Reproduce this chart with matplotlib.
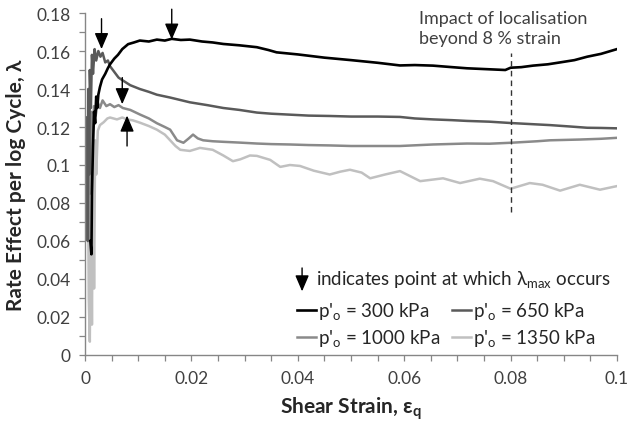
import matplotlib
matplotlib.use('Agg')
import matplotlib.pyplot as plt
from matplotlib.ticker import MultipleLocator, FuncFormatter

plt.rcParams['font.family'] = ['Lato', 'DejaVu Sans']
plt.rcParams['mathtext.fontset'] = 'custom'
plt.rcParams['mathtext.rm'] = 'Lato'
plt.rcParams['mathtext.bf'] = 'Lato:bold'

# shear strain / rate effect readings for each confining pressure
strain_300 = [0.0010, 0.0012, 0.0013, 0.0015, 0.0017, 0.0019, 0.0021, 0.0023, 0.0025, 0.0028,
              0.0032, 0.0038, 0.0043, 0.0047, 0.0055, 0.0062, 0.0070, 0.0081, 0.0092, 0.0103,
              0.0120, 0.0135, 0.0150, 0.0163, 0.0180, 0.0197, 0.0220, 0.0240, 0.0260, 0.0290,
              0.0323, 0.0345, 0.0360, 0.0400, 0.0450, 0.0500, 0.0550, 0.0592, 0.0620, 0.0654,
              0.0690, 0.0718, 0.0750, 0.0774, 0.0790, 0.0800, 0.0820, 0.0842, 0.0870, 0.0893,
              0.0920, 0.0944, 0.0970, 0.1000]
lam_300 = [0.060, 0.053, 0.085, 0.110, 0.128, 0.122, 0.136, 0.130, 0.137, 0.141,
           0.145, 0.148, 0.151, 0.153, 0.156, 0.158, 0.161, 0.1636, 0.1645, 0.1655,
           0.1650, 0.1660, 0.1655, 0.1664, 0.1658, 0.1660, 0.1650, 0.1645, 0.1637, 0.1630,
           0.1620, 0.1605, 0.1593, 0.1582, 0.1565, 0.1552, 0.1538, 0.1524, 0.1526, 0.1523,
           0.1515, 0.1509, 0.1505, 0.1502, 0.1500, 0.1512, 0.1515, 0.1523, 0.1530, 0.1540,
           0.1552, 0.1570, 0.1585, 0.1610]

strain_650 = [0.0003, 0.0005, 0.0006, 0.0008, 0.0009, 0.0011, 0.0013, 0.0015, 0.0018, 0.0021,
              0.0025, 0.0029, 0.0033, 0.0038, 0.0043, 0.0047, 0.0055, 0.0063, 0.0071, 0.0085,
              0.0103, 0.0120, 0.0135, 0.0160, 0.0197, 0.0230, 0.0260, 0.0290, 0.0323, 0.0350,
              0.0385, 0.0420, 0.0460, 0.0500, 0.0550, 0.0592, 0.0620, 0.0654, 0.0690, 0.0718,
              0.0760, 0.0800, 0.0840, 0.0874, 0.0910, 0.0944, 0.0970, 0.1000]
lam_650 = [0.125, 0.060, 0.140, 0.095, 0.150, 0.130, 0.158, 0.148, 0.161, 0.155,
           0.160, 0.157, 0.159, 0.154, 0.155, 0.152, 0.149, 0.146, 0.1445, 0.1420,
           0.1400, 0.1385, 0.1370, 0.1355, 0.1330, 0.1315, 0.1300, 0.1290, 0.1276, 0.1270,
           0.1265, 0.1260, 0.1258, 0.1255, 0.1255, 0.1253, 0.1245, 0.1240, 0.1236, 0.1232,
           0.1228, 0.1221, 0.1215, 0.1210, 0.1203, 0.1196, 0.1195, 0.1193]

strain_1000 = [0.0004, 0.0006, 0.0008, 0.0010, 0.0012, 0.0014, 0.0017, 0.0020, 0.0024, 0.0028,
               0.0033, 0.0040, 0.0047, 0.0055, 0.0063, 0.0071, 0.0085, 0.0103, 0.0120, 0.0135,
               0.0150, 0.0160, 0.0173, 0.0185, 0.0195, 0.0203, 0.0212, 0.0222, 0.0240, 0.0260,
               0.0290, 0.0323, 0.0350, 0.0385, 0.0420, 0.0460, 0.0500, 0.0550, 0.0592, 0.0654,
               0.0718, 0.0760, 0.0800, 0.0850, 0.0874, 0.0930, 0.0970, 0.1000]
lam_1000 = [0.110, 0.060, 0.120, 0.085, 0.128, 0.115, 0.131, 0.126, 0.133, 0.130,
            0.134, 0.131, 0.132, 0.1305, 0.1315, 0.1300, 0.1290, 0.1266, 0.1245, 0.1220,
            0.1200, 0.1186, 0.1130, 0.1117, 0.1140, 0.1160, 0.1140, 0.1130, 0.1125, 0.1122,
            0.1118, 0.1113, 0.1110, 0.1108, 0.1105, 0.1103, 0.1100, 0.1100, 0.1100, 0.1108,
            0.1113, 0.1112, 0.1117, 0.1125, 0.1130, 0.1134, 0.1138, 0.1143]

strain_1350 = [0.0003, 0.0005, 0.0007, 0.0009, 0.0011, 0.0013, 0.0015, 0.0017, 0.0019, 0.0021,
               0.0024, 0.0028, 0.0035, 0.0042, 0.0047, 0.0060, 0.0070, 0.0079, 0.0090, 0.0103,
               0.0120, 0.0135, 0.0150, 0.0160, 0.0170, 0.0179, 0.0197, 0.0216, 0.0240, 0.0260,
               0.0278, 0.0292, 0.0310, 0.0323, 0.0348, 0.0367, 0.0385, 0.0404, 0.0430, 0.0460,
               0.0480, 0.0498, 0.0520, 0.0536, 0.0564, 0.0592, 0.0630, 0.0673, 0.0705, 0.0742,
               0.0767, 0.0800, 0.0836, 0.0860, 0.0893, 0.0930, 0.0968, 0.1000]
lam_1350 = [0.100, 0.115, 0.030, 0.007, 0.090, 0.016, 0.108, 0.035, 0.113, 0.095,
            0.118, 0.121, 0.1225, 0.1245, 0.125, 0.1240, 0.1250, 0.1240, 0.1235, 0.1223,
            0.1205, 0.1186, 0.1160, 0.1130, 0.1100, 0.1080, 0.1074, 0.1090, 0.1080, 0.1050,
            0.1020, 0.1030, 0.1050, 0.1048, 0.1027, 0.0990, 0.1000, 0.0995, 0.0970, 0.0950,
            0.0965, 0.0975, 0.0960, 0.0930, 0.0950, 0.0968, 0.0915, 0.0930, 0.0905, 0.0928,
            0.0915, 0.0875, 0.0905, 0.0896, 0.0865, 0.0896, 0.0870, 0.0889]

# where lambda_max occurs: (strain, arrow tip, arrow tail)
lmax_300 = (0.0163, 0.166, 0.182)
lmax_650 = (0.0031, 0.161, 0.177)
lmax_1000 = (0.0070, 0.132, 0.146)
lmax_1350 = (0.0079, 0.126, 0.110)

# localisation marker
loc_strain = 0.08
loc_range = (0.075, 0.159)

fig = plt.figure(figsize=(6.28, 4.27), dpi=100)
ax = fig.add_axes([0.1354, 0.1663, 0.8471, 0.8009])

l1350, = ax.plot(strain_1350, lam_1350, color='#c0c0c0', lw=1.8, label="p'$_\\mathregular{o}$ = 1350 kPa")
l1000, = ax.plot(strain_1000, lam_1000, color='#8a8a8a', lw=1.8, label="p'$_\\mathregular{o}$ = 1000 kPa")
l650, = ax.plot(strain_650, lam_650, color='#5a5a5a', lw=1.8, label="p'$_\\mathregular{o}$ = 650 kPa")
l300, = ax.plot(strain_300, lam_300, color='black', lw=1.9, label="p'$_\\mathregular{o}$ = 300 kPa")

# arrows marking lambda_max
arrow_kw = dict(arrowstyle='-|>,head_length=0.7,head_width=0.3', color='black',
                lw=1.0, mutation_scale=14, shrinkA=0, shrinkB=0)
for s, tip, tail in [lmax_300, lmax_650, lmax_1000, lmax_1350]:
    ax.annotate('', xy=(s, tip), xytext=(s, tail), arrowprops=arrow_kw, annotation_clip=False)

# localisation line and note
ax.plot([loc_strain, loc_strain], loc_range, color='#333333', lw=1.0, dashes=(4, 3))
ax.text(0.0627, 0.172, 'Impact of localisation\nbeyond 8 % strain', fontsize=13,
        color='#404040', va='center', ha='left', linespacing=1.35)

# key
ax.annotate('', xy=(0.0408, 0.0335), xytext=(0.0408, 0.0458), arrowprops=arrow_kw)
ax.text(0.0435, 0.0397, 'indicates point at which λ$_\\mathregular{max}$ occurs', fontsize=13.5,
        color='#262626', va='center', ha='left')
ax.legend(handles=[l300, l1000, l650, l1350], ncol=2, frameon=False, fontsize=13.5,
          loc='upper left', bbox_to_anchor=(0.385, 0.18), handlelength=1.0,
          handletextpad=0.1, columnspacing=0.65, labelspacing=0.3, borderaxespad=0,
          labelcolor='#262626')

ax.set_xlim(0, 0.1)
ax.set_ylim(0, 0.18)
ax.xaxis.set_major_locator(MultipleLocator(0.02))
ax.xaxis.set_minor_locator(MultipleLocator(0.005))
ax.yaxis.set_major_locator(MultipleLocator(0.02))
ax.yaxis.set_minor_locator(MultipleLocator(0.01))
fmt = FuncFormatter(lambda v, _: f'{v:g}' if abs(v) > 1e-9 else '0')
ax.xaxis.set_major_formatter(fmt)
ax.yaxis.set_major_formatter(fmt)

for side in ['top', 'right']:
    ax.spines[side].set_visible(False)
for side in ['left', 'bottom']:
    ax.spines[side].set_color('#868686')
    ax.spines[side].set_linewidth(1.0)
ax.tick_params(which='both', direction='out', color='#868686', width=0.9,
               labelsize=12.5, labelcolor='#404040')
ax.tick_params(which='major', length=4.5, pad=6)
ax.tick_params(which='minor', length=4)

ax.set_xlabel('Shear Strain, ε$_\\mathbf{q}$', fontsize=15, fontweight='bold', color='#262626', labelpad=6)
ax.set_ylabel('Rate Effect per log Cycle, λ', fontsize=15, fontweight='bold', color='#262626', labelpad=7)

fig.savefig('out.png', dpi=100)
